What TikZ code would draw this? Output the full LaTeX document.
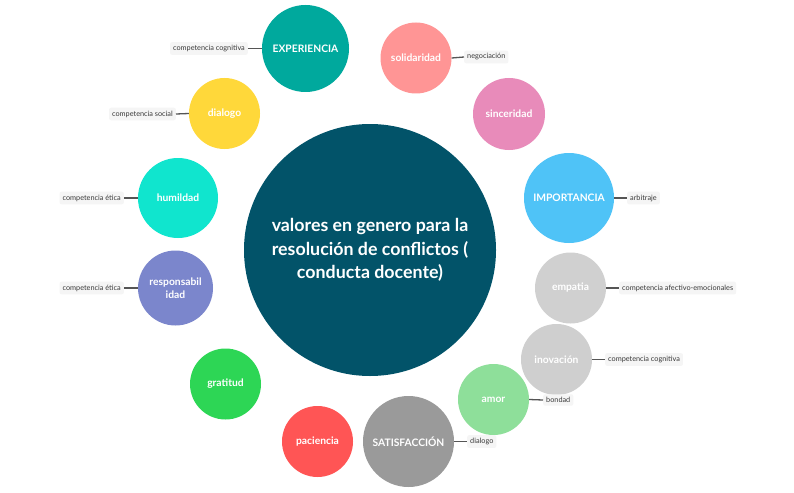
\documentclass[tikz,border=0pt]{standalone}
\usepackage{fontspec}
\setmainfont{Lato}
\definecolor{cmain}{HTML}{025369}
\definecolor{cexp}{HTML}{00A99D}
\definecolor{csol}{HTML}{FF9595}
\definecolor{cdia}{HTML}{FFD83A}
\definecolor{csin}{HTML}{E88BBA}
\definecolor{chum}{HTML}{10E5CE}
\definecolor{cimp}{HTML}{4FC3F7}
\definecolor{cres}{HTML}{7B86CC}
\definecolor{cemp}{HTML}{D0D0D0}
\definecolor{cino}{HTML}{CFCFCF}
\definecolor{cgra}{HTML}{2DD655}
\definecolor{camo}{HTML}{8EDF9A}
\definecolor{cpac}{HTML}{FF5555}
\definecolor{csat}{HTML}{9A9A9A}
\definecolor{lblfill}{HTML}{F5F5F5}
\definecolor{lbltext}{HTML}{3A3A3A}
\definecolor{lline}{HTML}{555555}
\tikzset{
  bub/.style={circle, inner sep=0pt, text=white, font=\bfseries\fontsize{10.3}{12.5}\selectfont, align=center},
  lbl/.style={rounded corners=2pt, fill=lblfill, text=lbltext, font=\fontsize{7.3}{8.5}\selectfont, inner xsep=3pt, inner ysep=3pt},
  conn/.style={draw=lline, line width=1.3pt}
}
\begin{document}
\begin{tikzpicture}[x=1pt,y=-1pt]
\useasboundingbox[fill=white] (0,0) rectangle (794,492);
% central
\node[circle, fill=cmain, minimum size=252pt, inner sep=0pt, text=white, align=center,
  font=\bfseries\fontsize{17.8}{23.5}\selectfont] (main) at (370,250)
  {valores en genero para la\\resolución de conflictos (\\conducta docente)};
% bubbles
\node[bub, fill=cexp, minimum size=87pt] (exp) at (305.5,48.5) {EXPERIENCIA};
\node[bub, fill=csol, minimum size=71pt] (sol) at (416,58) {solidaridad};
\node[bub, fill=cdia, minimum size=71pt] (dia) at (224.5,113.5) {dialogo};
\node[bub, fill=csin, minimum size=72pt] (sin) at (509,114) {sinceridad};
\node[bub, fill=chum, minimum size=80pt] (hum) at (178,198) {humildad};
\node[bub, fill=cimp, minimum size=90pt] (imp) at (569,198) {IMPORTANCIA};
\node[bub, fill=cres, minimum size=75pt] (res) at (175.5,288) {responsabil\\idad};
\node[bub, fill=cemp, minimum size=71pt] (emp) at (570.5,288) {empatia};
\node[bub, fill=cino, minimum size=71pt] (ino) at (556.5,359.5) {inovación};
\node[bub, fill=cgra, minimum size=71pt] (gra) at (225.5,384) {gratitud};
\node[bub, fill=camo, minimum size=71pt] (amo) at (493.5,399.5) {amor};
\node[bub, fill=cpac, minimum size=71pt] (pac) at (317.5,441.5) {paciencia};
\node[bub, fill=csat, minimum size=91pt] (sat) at (408.5,441.5) {SATISFACCIÓN};
% labels
\node[lbl, anchor=east] (l1) at (248,48.5) {competencia cognitiva};
\node[lbl, anchor=west] (l2) at (464,57) {negociación};
\node[lbl, anchor=east] (l3) at (176,114) {competencia social};
\node[lbl, anchor=east] (l4) at (124,198) {competencia ética};
\node[lbl, anchor=east] (l5) at (124,288) {competencia ética};
\node[lbl, anchor=west] (l6) at (627,198) {arbitraje};
\node[lbl, anchor=west] (l7) at (619,288) {competencia afectivo-emocionales};
\node[lbl, anchor=west] (l8) at (605,359.5) {competencia cognitiva};
\node[lbl, anchor=west] (l9) at (543,400) {bondad};
\node[lbl, anchor=west] (l10) at (467,441.5) {dialogo};
% connectors
\draw[conn] (exp.west) -- (l1.east);
\draw[conn] (sol.east) -- (l2.west);
\draw[conn] (dia.west) -- (l3.east);
\draw[conn] (hum.west) -- (l4.east);
\draw[conn] (res.west) -- (l5.east);
\draw[conn] (imp.east) -- (l6.west);
\draw[conn] (emp.east) -- (l7.west);
\draw[conn] (ino.east) -- (l8.west);
\draw[conn] (amo.east) -- (l9.west);
\draw[conn] (sat.east) -- (l10.west);
\end{tikzpicture}
\end{document}
